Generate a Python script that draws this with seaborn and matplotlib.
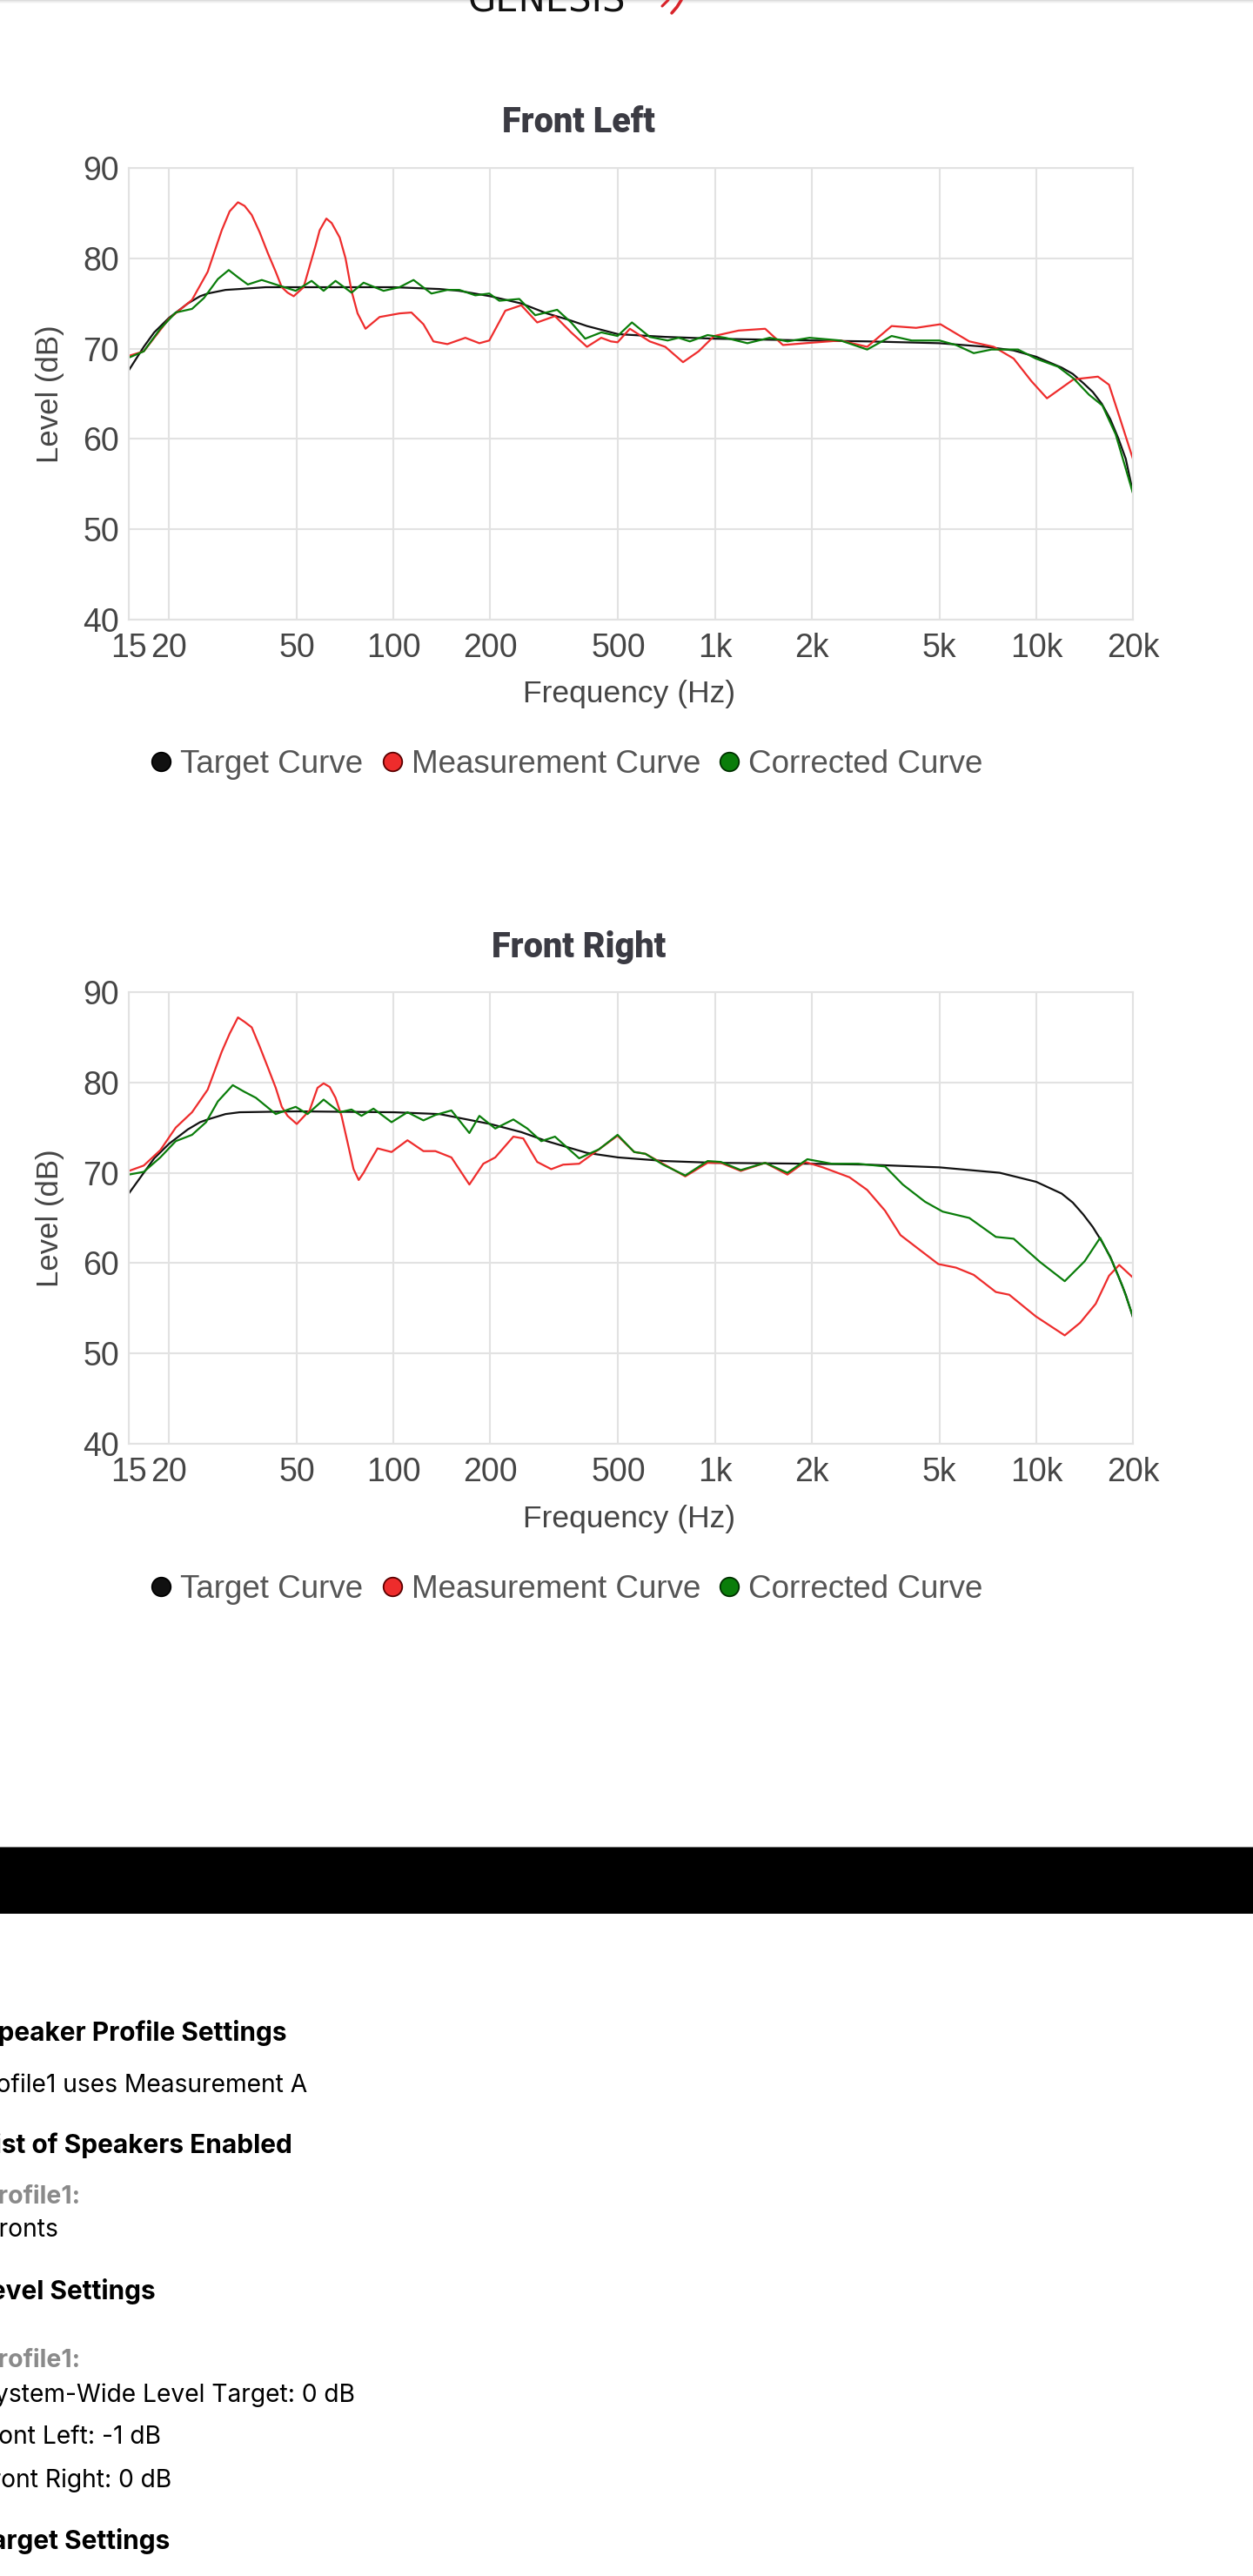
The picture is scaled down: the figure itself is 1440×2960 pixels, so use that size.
import numpy as np
import pandas as pd
import matplotlib
matplotlib.use("Agg")
import matplotlib.pyplot as plt
from matplotlib.lines import Line2D
from matplotlib.patches import Rectangle
import seaborn as sns

# ---- data (Hz, dB) ----
fl_target_hz = [15, 16.7, 18, 20, 22.9, 25, 26.4, 30, 33.2, 40, 50, 100, 139, 160, 200, 250, 300, 350,
                400, 500, 700, 1000, 2000, 3000, 5000, 7000, 8500, 10000, 12000, 13000, 14000, 15000,
                16000, 17000, 18000, 19000, 20000]
fl_target_db = [67.6, 70.2, 71.8, 73.4, 75.0, 75.8, 76.1, 76.5, 76.6, 76.8, 76.8, 76.8, 76.6, 76.4, 75.8,
                75.0, 73.9, 73.2, 72.5, 71.6, 71.3, 71.1, 70.9, 70.8, 70.6, 70.2, 69.8, 69.1, 67.9, 67.2,
                66.2, 65.2, 63.9, 62.2, 60.1, 57.8, 54.1]

fl_meas_hz = [15, 16.7, 20, 23.6, 26.4, 29.2, 30.9, 32.8, 34.4, 36.2, 38.3, 40.6, 43.0, 44.9, 46.8, 48.9,
              52.5, 57.2, 58.9, 61.8, 64.2, 68.0, 70.9, 74.0, 77.3, 81.8, 90.5, 104.4, 113.7, 123.9,
              133.1, 147.1, 167.3, 185, 198.6, 222.8, 249.8, 280, 318, 357, 400, 443, 475, 498, 544, 627,
              701, 796, 890, 995, 1185, 1434, 1629, 1909, 2462, 2979, 3549, 4229, 5036, 6192, 7377, 8508,
              9663, 10803, 13069, 15563, 16852, 18256, 20000]
fl_meas_db = [69.2, 69.7, 73.3, 75.4, 78.5, 83.1, 85.2, 86.2, 85.8, 84.8, 82.9, 80.6, 78.5, 76.8, 76.2, 75.8,
              76.8, 81.4, 83.1, 84.4, 83.9, 82.3, 80.0, 76.4, 73.9, 72.2, 73.5, 73.9, 74.0, 72.7,
              70.8, 70.5, 71.2, 70.6, 70.9, 74.2, 74.8, 72.9, 73.6, 71.8, 70.2, 71.2, 70.8, 70.7, 72.2, 70.8,
              70.2, 68.5, 69.7, 71.4, 72.0, 72.2, 70.4, 70.6, 70.9, 70.2, 72.5, 72.3, 72.7, 70.8, 70.2, 68.9,
              66.4, 64.5, 66.6, 66.9, 66.0, 62.2, 57.8]

fl_corr_hz = [15, 16.7, 18.8, 21.0, 23.6, 25.7, 28.4, 30.7, 32.8, 35.2, 38.9, 43.0, 49.6, 55.6, 60.6, 66.0,
              74.0, 80.7, 93.1, 104.4, 115.4, 131.2, 147.1, 160.3, 179.7, 198.6, 213.4, 246.3, 276.1, 323,
              357, 394.8, 443, 498, 552, 627, 713, 771, 836, 949, 1078, 1263, 1480, 1682, 1971, 2462, 2979,
              3549, 4099, 5000, 5628, 6392, 7257, 8783, 9974, 11691, 13069, 14604, 16073, 17681, 20000]
fl_corr_db = [69.0, 69.7, 72.2, 74.0, 74.4, 75.6, 77.7, 78.7, 77.9, 77.1, 77.6, 77.1, 76.4, 77.5, 76.4, 77.5,
              76.2, 77.3, 76.4, 76.8, 77.6, 76.1, 76.5, 76.5, 75.9, 76.1, 75.3, 75.5, 73.7, 74.3,
              72.9, 71.1, 71.8, 71.4, 72.9, 71.3, 70.9, 71.2, 70.8, 71.5, 71.2, 70.6, 71.2, 70.8, 71.2, 70.9, 69.9,
              71.4, 70.9, 70.9, 70.4, 69.5, 69.9, 69.9, 68.9, 68.0, 66.7, 64.9, 63.7, 60.5, 54.0]

fr_target_hz = [15, 16.7, 18, 20, 22.9, 25, 26.4, 30, 33.2, 50, 100, 139, 200, 250, 300, 400, 500, 700,
                1000, 2000, 3000, 5000, 7700, 10000, 12000, 13000, 14000, 15000, 16000, 17000, 18000,
                19000, 20000]
fr_target_db = [67.7, 70.0, 71.6, 73.2, 74.8, 75.6, 75.9, 76.5, 76.7, 76.8, 76.7, 76.5, 75.4, 74.5, 73.5,
                72.2, 71.7, 71.3, 71.1, 71.0, 70.9, 70.6, 70.0, 69.0, 67.7, 66.7, 65.4, 64.0, 62.4, 60.7,
                58.6, 56.5, 54.0]

fr_meas_hz = [15, 16.7, 18.8, 21.0, 23.6, 26.4, 29.2, 30.9, 32.8, 34.4, 36.2, 38.3, 40.6, 43.0, 44.9, 46.8,
              50, 54.8, 58.0, 60.6, 63.3, 66.0, 68.9, 72.0, 75.1, 77.9, 80.7, 83.0, 89.2, 98.6, 110.5,
              123.9, 135.0, 151.4, 172.2, 190.3, 207.3, 236.0, 253.4, 280, 309.6, 337.2, 378.2, 436, 498,
              561, 608, 690, 809, 949, 1044, 1204, 1434, 1682, 1909, 2168, 2625, 2979, 3386, 3782, 4365,
              4956, 5628, 6392, 7491, 8243, 9974, 12269, 13704, 15321, 16852, 18131, 20000]
fr_meas_db = [70.2, 70.8, 72.5, 75.0, 76.7, 79.2, 83.4, 85.4, 87.2, 86.7, 86.1, 84.0, 81.7, 79.4, 77.3, 76.3,
              75.4, 76.9, 79.4, 79.9, 79.5, 78.3, 76.3, 73.3, 70.4, 69.2, 70.0, 70.8, 72.7, 72.3, 73.6,
              72.4, 72.4, 71.7, 68.7, 71.0, 71.7, 74.0, 73.8, 71.2, 70.4, 70.9, 71.0, 72.6, 74.1,
              72.3, 72.1, 71.0, 69.6, 71.1, 71.1, 70.2, 71.1, 69.8, 71.2, 70.6, 69.5, 68.1, 65.8, 63.1, 61.4,
              59.9, 59.5, 58.7, 56.8, 56.5, 54.1, 52.0, 53.4, 55.5, 58.6, 59.8, 58.4]

fr_corr_hz = [15, 16.7, 18.8, 21.0, 23.6, 26.1, 28.4, 31.6, 34.2, 37.3, 43.0, 49.6, 54.0, 60.6, 68.0, 74.0,
              79.5, 86.6, 98.6, 110.5, 123.9, 135.0, 151.4, 172.2, 185, 207.3, 236.0, 260.8, 288.2, 318,
              378.2, 436, 498, 561, 608, 690, 809, 949, 1044, 1204, 1434, 1682, 1940, 2310, 2796, 3386,
              3844, 4506, 5118, 6192, 7491, 8508, 10296, 12269, 14148, 15816, 17127, 18540, 20000]
fr_corr_db = [69.8, 70.1, 71.7, 73.5, 74.2, 75.6, 77.9, 79.7, 79.0, 78.3, 76.5, 77.3, 76.5, 78.1, 76.7, 77.0,
              76.3, 77.1, 75.6, 76.7, 75.8, 76.4, 76.9, 74.4, 76.3, 74.9, 75.9, 74.9, 73.5, 74.0,
              71.6, 72.6, 74.2, 72.3, 72.1, 70.9, 69.7, 71.3, 71.2, 70.3, 71.1, 70.0, 71.5, 71.0, 71.0, 70.7,
              68.7, 66.8, 65.7, 65.0, 62.9, 62.7, 60.1, 58.0, 60.2, 62.8, 60.4, 57.5, 54.1]

curve_names = ["Target Curve", "Measurement Curve", "Corrected Curve"]
x_ticks = [15, 20, 50, 100, 200, 500, 1000, 2000, 5000, 10000, 20000]
x_tick_labels = ["15", "20", "50", "100", "200", "500", "1k", "2k", "5k", "10k", "20k"]
y_ticks = [40, 50, 60, 70, 80, 90]

line_colors = {"Target Curve": "#111111", "Measurement Curve": "#ee2c2c", "Corrected Curve": "#0a7d0a"}
dot_edges = {"Target Curve": "#000000", "Measurement Curve": "#5a0000", "Corrected Curve": "#003000"}

W, H = 1440, 2960
GRID = "#e2e2e2"
TICK_COL = "#454545"

sns.set_theme(style="whitegrid")
plt.rcParams['font.family'] = ['Liberation Sans', 'DejaVu Sans']

fig = plt.figure(figsize=(W / 100, H / 100), dpi=100)
fig.patch.set_facecolor("white")


def fx(px):
    return px / W


def fy(py):
    return 1 - py / H


def curve_frame(target_f, target_db, meas_f, meas_db, corr_f, corr_db):
    parts = []
    for name, f, db in zip(curve_names, [target_f, meas_f, corr_f], [target_db, meas_db, corr_db]):
        parts.append(pd.DataFrame({"freq": f, "level": db, "curve": name}))
    return pd.concat(parts, ignore_index=True)


def draw_panel(top_px, title, df):
    bottom_px = top_px + 519
    ax = fig.add_axes([fx(148), fy(bottom_px), fx(1302) - fx(148), fy(top_px) - fy(bottom_px)])
    # draw order: target, measurement, corrected on top
    sns.lineplot(data=df, x="freq", y="level", hue="curve", hue_order=curve_names,
                 palette=line_colors, estimator=None, sort=False, linewidth=1.6,
                 legend=False, ax=ax)
    for ln in ax.lines:
        ln.set_solid_joinstyle("round")
    ax.set_xscale("log")
    ax.set_xlim(15, 20000)
    ax.set_ylim(40, 90)
    ax.set_facecolor("white")
    ax.set_xticks(x_ticks)
    ax.set_xticklabels(x_tick_labels)
    ax.xaxis.set_minor_locator(matplotlib.ticker.NullLocator())
    ax.set_yticks(y_ticks)
    ax.grid(True, which="major", color=GRID, linewidth=1.5)
    for sp in ax.spines.values():
        sp.set_color(GRID)
        sp.set_linewidth(1.5)
    ax.tick_params(axis="both", length=0, labelsize=27, colors=TICK_COL)
    ax.tick_params(axis="x", pad=11)
    ax.tick_params(axis="y", pad=8)
    ax.set_xlabel("Frequency (Hz)", fontsize=25.5, color=TICK_COL)
    ax.set_ylabel("Level (dB)", fontsize=25, color=TICK_COL)
    ax.xaxis.label.set_va("center")
    ax.xaxis.set_label_coords((723 - 148) / 1154, (bottom_px - (top_px + 605)) / 519)
    ax.yaxis.label.set_va("center")
    ax.yaxis.set_label_coords((58 - 148) / 1154, 0.5)
    fig.text(fx(665), fy(top_px - 52), title, ha="center", va="center", fontsize=28.5,
             fontweight=900, color="#3b3b43", family=["Roboto", "DejaVu Sans"])
    return ax


def draw_legend(y_px):
    handles = [Line2D([], [], marker="o", linestyle="none", markersize=15.5,
                      markerfacecolor=line_colors[n], markeredgecolor=dot_edges[n],
                      markeredgewidth=1.3) for n in curve_names]
    fig.legend(handles, curve_names, loc="center", bbox_to_anchor=(fx(652), fy(y_px)), ncol=3,
               frameon=False, fontsize=26.5, handlelength=0.6, handletextpad=0.3,
               columnspacing=0.6, borderpad=0, labelcolor="#555555")


df_left = curve_frame(fl_target_hz, fl_target_db, fl_meas_hz, fl_meas_db, fl_corr_hz, fl_corr_db)
df_right = curve_frame(fr_target_hz, fr_target_db, fr_meas_hz, fr_meas_db, fr_corr_hz, fr_corr_db)

draw_panel(193, "Front Left", df_left)
draw_legend(878)
draw_panel(1140, "Front Right", df_right)
draw_legend(1826)

# header bar shadow + cut-off logo
for i, c in enumerate(["#dcdcdc", "#e8e8e8", "#f2f2f2", "#f8f8f8"]):
    fig.add_artist(Rectangle((0, fy(i + 1)), 1, 1 / H, transform=fig.transFigure, color=c, lw=0))
fig.text(fx(628), fy(13), "GENESIS", ha="center", va="baseline", fontsize=30,
         color="#111111", family=["DejaVu Sans"])
fig.add_artist(Line2D([fx(761), fx(768)], [fy(7), fy(0)], color="#d8232a", lw=2.2,
                      transform=fig.transFigure))
fig.add_artist(Line2D([fx(772), fx(778), fx(783)], [fy(15), fy(8), fy(0)], color="#d8232a", lw=2.6,
                      transform=fig.transFigure))

# black band
fig.add_artist(Rectangle((0, fy(2199)), 1, (2199 - 2123) / H, transform=fig.transFigure,
                         color="black", lw=0))
fig.add_artist(Rectangle((0, fy(2123)), 1, 1.2 / H, transform=fig.transFigure,
                         color="#777777", lw=0))

# settings text (page is scrolled, left edge is cut)
settings = [
    ("Speaker Profile Settings", 329, 2336, "head"),
    ("Profile1 uses Measurement A", 353, 2396, "body"),
    ("List of Speakers Enabled", 336, 2465, "head"),
    ("Profile1:", 92, 2525, "sub"),
    ("Fronts", 67, 2563, "body"),
    ("Level Settings", 179, 2633, "head"),
    ("Profile1:", 92, 2713, "sub"),
    ("System-Wide Level Target: 0 dB", 408, 2752, "body"),
    ("Front Left: -1 dB", 185, 2801, "body"),
    ("Front Right: 0 dB", 197, 2850, "body"),
    ("Target Settings", 195, 2920, "head"),
]
styles = {"head": dict(fontsize=21.5, fontweight="bold", color="#000000"),
          "body": dict(fontsize=20.3, fontweight="normal", color="#000000"),
          "sub": dict(fontsize=20.5, fontweight="bold", color="#8a8a8a")}
for txt, x_end, y_c, kind in settings:
    fig.text(fx(x_end), fy(y_c), txt, ha="right", va="center",
             family=["Inter", "DejaVu Sans"], **styles[kind])

fig.savefig("out.png", dpi=100, facecolor="white")
